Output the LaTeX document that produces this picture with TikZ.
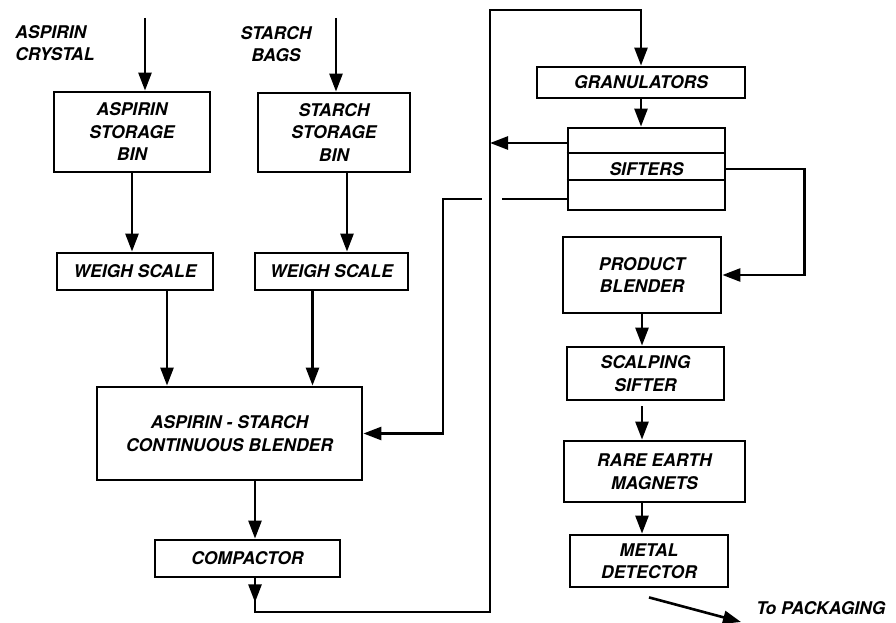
\documentclass[tikz,border=0pt]{standalone}
\usepackage{fontspec}
\setmainfont{TeX Gyre Heros}
\usetikzlibrary{arrows.meta}

\begin{document}
\begin{tikzpicture}[x=1pt,y=-1pt,>={Triangle[length=18pt,width=13pt]},line width=2.6pt,
  txt/.style={font=\fontsize{17.5}{22.5}\selectfont\bfseries\itshape,inner sep=0pt},
  blk/.style={txt,draw,line width=2.8pt,align=center,minimum width=#1},
  lbl/.style={txt,align=#1}]
  \useasboundingbox (0,0) rectangle (896,623);
  % left column
  \node[lbl=left,anchor=west] (acr) at (14,43) {ASPIRIN\\CRYSTAL};
  \node[lbl=center] (sbg) at (276,44) {STARCH\\BAGS};
  \node[blk=156pt,minimum height=80pt] (abin) at (132,132) {ASPIRIN\\STORAGE\\BIN};
  \node[blk=152pt,minimum height=79pt] (sbin) at (334,132.5) {STARCH\\STORAGE\\BIN};
  \node[blk=156pt,minimum height=37pt] (wa) at (135,271.5) {WEIGH SCALE};
  \node[blk=153pt,minimum height=37pt] (ws) at (331.5,271.5) {WEIGH SCALE};
  \node[blk=265pt,minimum height=93pt] (blend) at (229.5,433.5) {ASPIRIN - STARCH\\CONTINUOUS BLENDER};
  \node[blk=185pt,minimum height=37pt] (comp) at (247.5,558.5) {COMPACTOR};
  % right column
  \node[blk=208pt,minimum height=31pt] (gran) at (641,82.5) {GRANULATORS};
  \node[blk=157pt,minimum height=82pt] (sift) at (646.5,169) {SIFTERS};
  \draw[line width=1.8pt] ([yshift=16pt]sift.west) -- ([yshift=16pt]sift.east);
  \draw[line width=1.8pt] ([yshift=-11pt]sift.west) -- ([yshift=-11pt]sift.east);
  \node[blk=158pt,minimum height=76pt] (pblend) at (642,275) {PRODUCT\\BLENDER};
  \node[blk=157pt,minimum height=53pt] (ss) at (645.5,373.5) {SCALPING\\SIFTER};
  \node[blk=181pt,minimum height=61pt] (re) at (654.5,471.5) {RARE EARTH\\MAGNETS};
  \node[blk=158pt,minimum height=52pt] (md) at (649,561) {METAL\\DETECTOR};
  \node[lbl=left,anchor=west] (pack) at (755,608) {To PACKAGING};

  \coordinate (ain) at (145,18);
  \coordinate (sin) at (336,18);
  \coordinate (lb) at (490,612);
  \coordinate (lt) at (490,10);
  \coordinate (rx) at (443,0);
  \coordinate (s1) at ([yshift=26pt]sift.west);
  \coordinate (s3) at ([yshift=-30pt]sift.west);
  \coordinate (pk) at (741,622);

  \draw[->] (ain) -- (ain |- abin.north);
  \draw[->] (sin) -- (sin |- sbin.north);
  \draw[->] (abin.south) -- (abin.south |- wa.north);
  \draw[->] ([xshift=13pt]sbin.south) -- ([xshift=13pt]sbin.south |- ws.north);
  \draw[->] ([xshift=32pt]wa.south) -- ([xshift=32pt]wa.south |- blend.north);
  \draw[->] ([xshift=-19pt]ws.south) -- ([xshift=-19pt]ws.south |- blend.north);
  \draw[->] ([xshift=25.5pt]blend.south) -- ([xshift=25.5pt]blend.south |- comp.north);
  \draw[->] ([xshift=7.5pt]comp.south) -- ++(0,24);
  \draw[->] ([xshift=7.5pt]comp.south) |- (lb) -- (lt) -| (gran.north);
  \draw[->] (gran.south) -- (gran.south |- sift.north);
  \draw[->] (s1) -- (s1 -| lt);
  \draw (s3) -- ++(-65,0);
  \draw[->] ([xshift=-85pt]s3) -| (rx |- blend.east) -- (blend.east);
  \draw[->] (sift.east) -- ++(78,0) |- (pblend.east);
  \draw[->] (pblend.south) -- (pblend.south |- ss.north);
  \draw[->] ([yshift=-5pt]pblend.south |- ss.south) -- (pblend.south |- re.north);
  \draw[->] (pblend.south |- re.south) -- (pblend.south |- md.north);
  \draw[->] ([yshift=-9pt]md.south) -- (pk);
\end{tikzpicture}
\end{document}
